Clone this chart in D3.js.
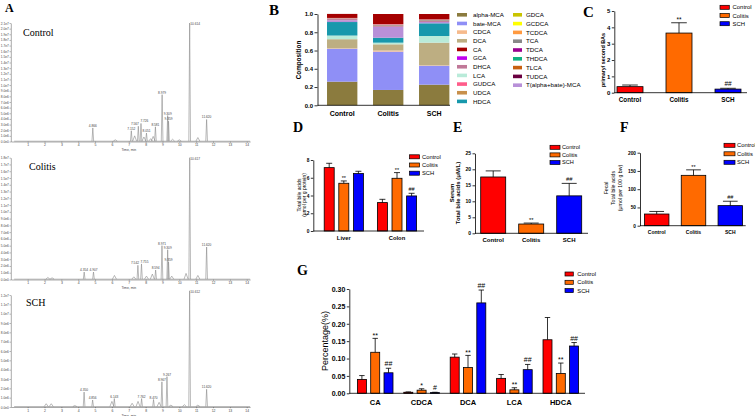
<!DOCTYPE html>
<html><head><meta charset="utf-8">
<script src="https://cdn.jsdelivr.net/npm/d3@7"></script>
<style>body{margin:0;background:#fff}svg{display:block}</style>
</head><body><svg id="c" width="755" height="416"></svg>
<script>
// ================= DATA =================
// Panel A – chromatograms: [retention time (min), intensity (x1e6 cps)]
const chromTitles = ["Control", "Colitis", "SCH"];
const chromTimeTicks = [1,2,3,4,5,6,7,8,9,10,11,12,13,14];
const ctrlPeaks = [[4.866,2.4],[7.152,1.9],[7.567,2.7],[7.726,3.2],[8.051,1.5],[8.581,2.6],[8.979,8.3],[9.309,4.6],[9.359,3.6],[10.614,21.0],[11.620,3.9]];
const ctrlBumps = [[6.2,0.3],[7.35,1.0],[7.9,0.8],[8.3,0.5],[8.45,0.9],[9.6,0.4],[10.0,0.3],[11.1,0.7]];
const colPeaks = [[4.354,1.1],[4.907,1.1],[7.542,2.1],[7.755,2.3],[8.594,1.4],[8.971,5.0],[9.309,4.4],[9.359,2.6],[10.617,18.0],[11.620,4.8]];
const colBumps = [[2.2,0.3],[2.45,0.25],[6.15,0.6],[7.3,0.4],[8.05,0.5],[8.4,0.8],[9.55,0.5],[10.4,0.9],[11.1,0.6]];
const schPeaks = [[4.350,1.6],[4.856,0.75],[6.143,0.9],[7.762,0.9],[8.470,0.8],[8.967,2.7],[9.267,3.25],[10.612,12.45],[11.620,1.9]];
const schBumps = [[2.1,0.35],[2.4,0.35],[3.8,0.15],[6.0,0.6],[7.2,0.4],[7.55,0.6],[8.8,0.5],[9.5,0.2],[10.3,0.25],[11.1,0.2]];
const chromYMax = [21, 18, 12];

// Groups shared by C–G
const barGroups = ["Control", "Colitis", "SCH"];

// Panel B – composition
const bileAcids = ["alpha-MCA","bate-MCA","CDCA","DCA","CA","GCA","DHCA","LCA","GUDCA","UDCA","HDCA",
                   "GDCA","GCDCA","TCDCA","TCA","TDCA","THDCA","TLCA","TUDCA","T(alpha+bate)-MCA"];
const stackOrder = ["alpha-MCA","bate-MCA","CDCA","DCA","LCA","HDCA","T(alpha+bate)-MCA","DHCA","TCA","TCDCA",
                    "GCA","GUDCA","UDCA","GDCA","GCDCA","TDCA","THDCA","TLCA","TUDCA","CA"];
const compControl = [0.259,0.360,0.005,0.100,0.044,0.001,0.012,0.040,0.001,0.001,0.148,0,0,0.003,0.006,0.001,0,0,0,0.020];
const compColitis = [0.168,0.420,0.012,0.068,0.110,0.002,0.010,0.018,0.001,0.002,0.054,0,0,0.006,0.008,0.001,0,0,0,0.120];
const compSCH     = [0.226,0.207,0.005,0.248,0.058,0.001,0.012,0.073,0.001,0.001,0.139,0,0,0.005,0.008,0.001,0,0,0,0.015];
const compTicks = [0,0.2,0.4,0.6,0.8,1.0];

// Panel C – primary / secondary BAs
const cValues = [0.37, 3.65, 0.22];
const cErrors = [0.10, 0.63, 0.05];
const cMarks  = ["", "**", "##"];
const cTicks  = [0,1,2,3,4,5];

// Panel D – tissue total bile acids
const dCategories = ["Liver", "Colon"];
const dControl = [7.14, 3.20], dControlErr = [0.49, 0.37];
const dColitis = [5.38, 5.94], dColitisErr = [0.26, 0.64];
const dSCH     = [6.47, 3.95], dSCHErr     = [0.26, 0.30];
const dColitisMarks = ["**", "**"], dSCHMarks = ["", "##"];
const dTicks = [0,2,4,6,8];

// Panel E – serum total bile acids
const eValues = [17.6, 2.9, 11.7];
const eErrors = [1.9, 0.3, 3.9];
const eMarks  = ["", "**", "##"];
const eTicks  = [0,5,10,15,20,25];

// Panel F – fecal total bile acids
const fValues = [32, 138, 55];
const fErrors = [7, 15, 12];
const fMarks  = ["", "**", "##"];
const fTicks  = [0,50,100,150,200];

// Panel G – percentage of individual BAs
const gCategories = ["CA","CDCA","DCA","LCA","HDCA"];
const gControl = [0.040,0.003,0.104,0.043,0.154], gControlErr = [0.011,0.001,0.009,0.011,0.064];
const gColitis = [0.118,0.009,0.074,0.010,0.057], gColitisErr = [0.040,0.004,0.035,0.006,0.030];
const gSCH     = [0.059,0.002,0.260,0.068,0.136], gSCHErr     = [0.013,0.001,0.037,0.015,0.010];
const gColitisMarks = ["**","*","**","**","**"], gSCHMarks = ["##","#","##","##","##"];
const gTicks = [0,0.05,0.10,0.15,0.20,0.25,0.30];

// ================= STYLE =================
const SANS = "'Liberation Sans', Arial, Helvetica, sans-serif";
const SERIF = "'Liberation Serif', 'Times New Roman', serif";
const groupColors = ["#FF0000", "#FF6A00", "#0000FF"];
const bileColors = ["#8B7B3E","#8F8FF6","#F6BA8C","#BDAE82","#A50000","#C000F0","#C07898","#B9EBD9","#FF5C8A","#C8904C","#1798AC",
                    "#C9C400","#FFFF00","#FF9A40","#888888","#9A0090","#10B080","#C86010","#6A0040","#B890D8"];

const svg = d3.select("#c");
svg.append("rect").attr("width", 755).attr("height", 416).attr("fill", "#fff");

function styleAxis(sel, fs, bold) {
  sel.selectAll("path,line").attr("stroke", "#000").attr("stroke-width", 0.8);
  sel.selectAll("text").attr("font-family", SANS).attr("font-size", fs).attr("font-weight", bold ? "bold" : "normal").attr("fill", "#000");
}
function letter(t, x, y, fs) {
  svg.append("text").attr("x", x).attr("y", y).text(t).attr("font-family", SERIF)
    .attr("font-weight", "bold").attr("font-size", fs || 14).attr("fill", "#000");
}
function rotTitle(lines, x0, dx, cy, fs, bold) {
  lines.forEach((l, i) => {
    svg.append("text").attr("transform", `translate(${x0 + i * dx},${cy}) rotate(-90)`)
      .attr("text-anchor", "middle").attr("font-family", SANS).attr("font-size", fs)
      .attr("font-weight", bold ? "bold" : "normal").text(l);
  });
}
function legend(x, y0, dy, names, colors, fs, w, h, tdx, stroke) {
  const g = svg.append("g");
  names.forEach((n, i) => {
    g.append("rect").attr("x", x).attr("y", y0 + i * dy - h / 2).attr("width", w).attr("height", h)
      .attr("fill", colors[i]).attr("stroke", stroke ? "#000" : "none").attr("stroke-width", 0.7);
    g.append("text").attr("x", x + w + tdx).attr("y", y0 + i * dy).attr("dy", "0.35em")
      .attr("font-family", SANS).attr("font-size", fs).text(n);
  });
}

// ================= PANEL A =================
letter("A", 5, 11.5, 12);
const chromLayout = [
  {peaks: ctrlPeaks, bumps: ctrlBumps, bottom: 141.5, top: 23,    titleY: 36},
  {peaks: colPeaks,  bumps: colBumps,  bottom: 279.5, top: 157.7, titleY: 169.5},
  {peaks: schPeaks,  bumps: schBumps,  bottom: 407,   top: 295,   titleY: 306}
];
function chromFmt(v) {
  if (v === 0) return "0.0e0";
  return v >= 10 ? (v / 10).toFixed(1) + "e7" : v.toFixed(1) + "e6";
}
const PEAK_FS = 3.2, PEAK_LW = 5 * 0.556 * PEAK_FS + 0.6;
chromLayout.forEach((L, k) => {
  const g = svg.append("g");
  const x = d3.scaleLinear().domain([0, 14.2]).range([10.8, 250.1]);
  const y = d3.scaleLinear().domain([0, chromYMax[k]]).range([L.bottom, L.top]);
  const ya = g.append("g").attr("transform", `translate(${x(0)},0)`)
    .call(d3.axisLeft(y).tickValues(d3.range(0, chromYMax[k] + 0.01, 1)).tickFormat(chromFmt).tickSize(1.2).tickSizeOuter(0).tickPadding(0.8));
  ya.selectAll("path,line").attr("stroke", "#555").attr("stroke-width", 0.5);
  ya.selectAll("text").attr("font-family", SANS).attr("font-size", 3.2).attr("fill", "#444");
  const xa = g.append("g").attr("transform", `translate(0,${L.bottom})`)
    .call(d3.axisBottom(x).tickValues(chromTimeTicks).tickSize(1.2).tickSizeOuter(0).tickPadding(1));
  xa.selectAll("path,line").attr("stroke", "#555").attr("stroke-width", 0.5);
  xa.selectAll("text").attr("font-family", SANS).attr("font-size", 3.4).attr("fill", "#444");
  g.append("text").attr("x", x(7)).attr("y", L.bottom + 9.5).attr("text-anchor", "middle")
    .attr("font-family", SANS).attr("font-size", 3.4).attr("fill", "#444").text("Time, min");
  // baseline
  g.append("path").attr("d", d3.line()([[x(0.2), y(0.05)], [x(14.2), y(0.05)]]))
    .attr("stroke", "#8a8a8a").attr("stroke-width", 0.6).attr("fill", "none");
  const tri = (t, h, w) => d3.line()([[x(t - w), y(0.05)], [x(t), y(h)], [x(t + w), y(0.05)]]);
  L.bumps.forEach(([t, h]) => g.append("path").attr("d", tri(t, h, 0.12))
    .attr("stroke", "#8a8a8a").attr("stroke-width", 0.6).attr("fill", "none"));
  const labels = [];
  L.peaks.forEach(([t, h]) => {
    g.append("path").attr("d", tri(t, h, 0.05)).attr("stroke", "#8a8a8a").attr("stroke-width", 0.6).attr("fill", "none");
    labels.push({x: x(t) + (h > 10 ? 5.5 : 0), y: y(h) - 1 + (h > 10 ? 3 : 0), text: t.toFixed(3)});
  });
  // simple collision avoidance for peak labels
  labels.sort((a, b) => a.x - b.x);
  for (let it = 0; it < 6; it++) {
    for (let i = 0; i < labels.length; i++) for (let j = i + 1; j < labels.length; j++) {
      const a = labels[i], b = labels[j];
      const ov = PEAK_LW - (b.x - a.x);
      if (ov > 0 && Math.abs(a.y - b.y) < PEAK_FS + 0.4) { a.x -= ov / 2; b.x += ov / 2; }
    }
  }
  labels.forEach(l => g.append("text").attr("x", l.x).attr("y", l.y).attr("text-anchor", "middle")
    .attr("font-family", SANS).attr("font-size", PEAK_FS).attr("fill", "#444").text(l.text));
  g.append("text").attr("x", k === 1 ? 29 : (k === 2 ? 26 : 23)).attr("y", L.titleY)
    .attr("font-family", SERIF).attr("font-size", 10).text(chromTitles[k]);
});

// ================= PANEL B =================
letter("B", 269, 15, 15);
{
  const y = d3.scaleLinear().domain([0, 1]).range([105.3, 14]);
  const x = d3.scaleBand().domain(barGroups).range([319.2, 457.2]).paddingInner(0.34).paddingOuter(0.17);
  const comps = [compControl, compColitis, compSCH];
  const rows = barGroups.map((c, i) => { const r = {cat: c}; bileAcids.forEach((b, j) => r[b] = comps[i][j]); return r; });
  const series = d3.stack().keys(stackOrder)(rows);
  const g = svg.append("g");
  series.forEach(s => {
    const col = bileColors[bileAcids.indexOf(s.key)];
    g.selectAll(null).data(s).join("rect")
      .attr("x", d => x(d.data.cat)).attr("width", x.bandwidth())
      .attr("y", d => y(d[1])).attr("height", d => Math.max(0, y(d[0]) - y(d[1])))
      .attr("fill", col);
  });
  const ya = g.append("g").attr("transform", "translate(317.5,0)")
    .call(d3.axisLeft(y).tickValues(compTicks).tickFormat(d3.format(".1f")).tickSize(3).tickSizeOuter(0).tickPadding(1.5));
  styleAxis(ya, 6, true);
  g.append("line").attr("x1", 317.5).attr("x2", 450).attr("y1", y(0)).attr("y2", y(0)).attr("stroke", "#000").attr("stroke-width", 0.8);
  barGroups.forEach(c => g.append("text").attr("x", x(c) + x.bandwidth() / 2).attr("y", 115.5).attr("text-anchor", "middle")
    .attr("font-family", SANS).attr("font-weight", "bold").attr("font-size", 7).text(c));
  rotTitle(["Composition"], 300.5, 0, 60, 6.3, true);
  legend(457, 14.8, 8.66, bileAcids.slice(0, 11), bileColors.slice(0, 11), 6.2, 10, 3.6, 6, false);
  legend(513, 14.8, 8.8, bileAcids.slice(11), bileColors.slice(11), 6.2, 9, 3.6, 4, false);
}

// ================= helpers for bar panels =================
function errBar(g, cx, yTop, yErr, capW) {
  g.append("line").attr("x1", cx).attr("x2", cx).attr("y1", yTop).attr("y2", yErr).attr("stroke", "#000").attr("stroke-width", 0.8);
  g.append("line").attr("x1", cx - capW / 2).attr("x2", cx + capW / 2).attr("y1", yErr).attr("y2", yErr).attr("stroke", "#000").attr("stroke-width", 0.8);
}
function mark(g, cx, yErr, txt, fs) {
  if (!txt) return;
  g.append("text").attr("x", cx).attr("y", yErr - 2 + (txt.includes("*") ? 1.2 : 0)).attr("text-anchor", "middle")
    .attr("font-family", SANS).attr("font-size", fs).attr("fill", "#000").text(txt);
}
function simpleBars(o) {
  const g = svg.append("g");
  const y = d3.scaleLinear().domain(o.yDomain).range(o.yRange);
  const n = barGroups.length, p = 1 - o.barW / o.step;
  const x = d3.scaleBand().domain(barGroups).range([o.c0 - o.step / 2, o.c0 - o.step / 2 + n * o.step]).paddingInner(p).paddingOuter(p / 2);
  barGroups.forEach((c, i) => {
    g.append("rect").attr("x", x(c)).attr("width", x.bandwidth()).attr("y", y(o.values[i]))
      .attr("height", y(0) - y(o.values[i])).attr("fill", groupColors[i]).attr("stroke", "#000").attr("stroke-width", 0.8);
    const cx = x(c) + x.bandwidth() / 2;
    errBar(g, cx, y(o.values[i]), y(o.values[i] + o.errors[i]), x.bandwidth() * 0.6);
    mark(g, cx, y(o.values[i] + o.errors[i]), o.marks[i], o.markFs);
    g.append("text").attr("x", cx).attr("y", o.labelY).attr("text-anchor", "middle").attr("font-family", SANS)
      .attr("font-weight", "bold").attr("font-size", o.labelFs).text(c);
  });
  const ya = g.append("g").attr("transform", `translate(${o.axisX},0)`)
    .call(d3.axisLeft(y).tickValues(o.ticks).tickSize(2.5).tickSizeOuter(0).tickPadding(1.5).tickFormat(o.fmt || d3.format("d")));
  styleAxis(ya, o.tickFs, true);
  g.append("line").attr("x1", o.axisX).attr("x2", o.axisEnd).attr("y1", y(0)).attr("y2", y(0)).attr("stroke", "#000").attr("stroke-width", 0.8);
}
function groupedBars(o) {
  const g = svg.append("g");
  const y = d3.scaleLinear().domain(o.yDomain).range(o.yRange);
  const x0 = d3.scaleBand().domain(o.cats).range([o.c0 - o.step / 2, o.c0 - o.step / 2 + o.cats.length * o.step]);
  const n = barGroups.length, p = 1 - o.barW / o.inStep, W = n * o.inStep;
  const x1 = d3.scaleBand().domain(barGroups).range([-W / 2, W / 2]).paddingInner(p).paddingOuter(p / 2);
  o.cats.forEach((c, ci) => {
    const gc = x0(c) + x0.bandwidth() / 2;
    barGroups.forEach((s, si) => {
      const v = o.values[si][ci], e = o.errors[si][ci];
      const bx = gc + x1(s);
      g.append("rect").attr("x", bx).attr("width", x1.bandwidth()).attr("y", y(v)).attr("height", y(0) - y(v))
        .attr("fill", groupColors[si]).attr("stroke", "#000").attr("stroke-width", 0.8);
      const cx = bx + x1.bandwidth() / 2;
      errBar(g, cx, y(v), y(v + e), x1.bandwidth() * 0.6);
      mark(g, cx, y(v + e), o.marks[si][ci], o.markFs);
    });
    g.append("text").attr("x", gc).attr("y", o.labelY).attr("text-anchor", "middle").attr("font-family", SANS)
      .attr("font-weight", "bold").attr("font-size", o.labelFs).text(c);
  });
  const ya = g.append("g").attr("transform", `translate(${o.axisX},0)`)
    .call(d3.axisLeft(y).tickValues(o.ticks).tickSize(2.5).tickSizeOuter(0).tickPadding(1.5).tickFormat(o.fmt || d3.format("d")));
  styleAxis(ya, o.tickFs, true);
  g.append("line").attr("x1", o.axisX).attr("x2", o.axisEnd).attr("y1", y(0)).attr("y2", y(0)).attr("stroke", "#000").attr("stroke-width", 0.8);
}

// ================= PANEL C =================
letter("C", 583, 16.5, 15);
simpleBars({values: cValues, errors: cErrors, marks: cMarks, yDomain: [0, 5], yRange: [92.7, 11], ticks: cTicks,
  c0: 630, step: 49, barW: 26, axisX: 614.3, axisEnd: 747, labelY: 101.5, labelFs: 6.3, tickFs: 6, markFs: 6.5});
rotTitle(["primary/ second BAs"], 605, 0, 60, 5.4, true);
legend(720, 7.3, 8.2, barGroups, groupColors, 5.9, 9.3, 4, 3.3, true);

// ================= PANEL D =================
letter("D", 293, 131.5, 14);
groupedBars({cats: dCategories, values: [dControl, dColitis, dSCH], errors: [dControlErr, dColitisErr, dSCHErr],
  marks: [["", ""], dColitisMarks, dSCHMarks], yDomain: [0, 8], yRange: [231, 160], ticks: dTicks,
  c0: 343.8, step: 53.2, inStep: 14.6, barW: 10, axisX: 313.3, axisEnd: 424, labelY: 240.3, labelFs: 5.8, tickFs: 4.8, markFs: 5.5});
rotTitle(["Total bile acids", "(\u03bcmol per g protein)"], 300.5, 5.8, 195, 5, false);
legend(409.5, 156.8, 8.2, barGroups, groupColors, 5.8, 10, 4, 2.5, true);

// ================= PANEL E =================
letter("E", 453, 131.5, 14);
simpleBars({values: eValues, errors: eErrors, marks: eMarks, yDomain: [0, 25], yRange: [233.3, 153.3], ticks: eTicks,
  c0: 493.2, step: 38, barW: 25, axisX: 475, axisEnd: 588, labelY: 241.5, labelFs: 6, tickFs: 5, markFs: 5.8});
rotTitle(["Serum", "Total bile acids (\u03bcM/L)"], 453.5, 6.3, 193, 6, true);
legend(550, 147.3, 7.6, barGroups, groupColors, 5.6, 10, 4, 2, true);

// ================= PANEL F =================
letter("F", 620, 131.5, 14);
simpleBars({values: fValues, errors: fErrors, marks: fMarks, yDomain: [0, 200], yRange: [225.7, 152.7], ticks: fTicks,
  c0: 656.7, step: 36.8, barW: 24.5, axisX: 640, axisEnd: 745.7, labelY: 233.5, labelFs: 5, tickFs: 4.8, markFs: 5.5});
rotTitle(["Fecal", "Total bile acids", "(\u03bcmol per 100 g bw)"], 608, 6.8, 188, 5.2, false);
legend(724, 145.3, 8.5, barGroups, groupColors, 5.8, 11, 4, 2, true);

// ================= PANEL G =================
letter("G", 297, 274.5, 14);
groupedBars({cats: gCategories, values: [gControl, gColitis, gSCH], errors: [gControlErr, gColitisErr, gSCHErr],
  marks: [["", "", "", "", ""], gColitisMarks, gSCHMarks], yDomain: [0, 0.30], yRange: [393.3, 289], ticks: gTicks,
  fmt: d3.format(".2f"), c0: 375.2, step: 46.4, inStep: 13.3, barW: 9, axisX: 349.3, axisEnd: 585, labelY: 404.5,
  labelFs: 7.5, tickFs: 7, markFs: 7});
rotTitle(["Percentage(%)"], 327.5, 0, 341, 9, false);
legend(565, 274, 8.3, barGroups, groupColors, 5.8, 8.3, 4, 4, true);
</script></body></html>
